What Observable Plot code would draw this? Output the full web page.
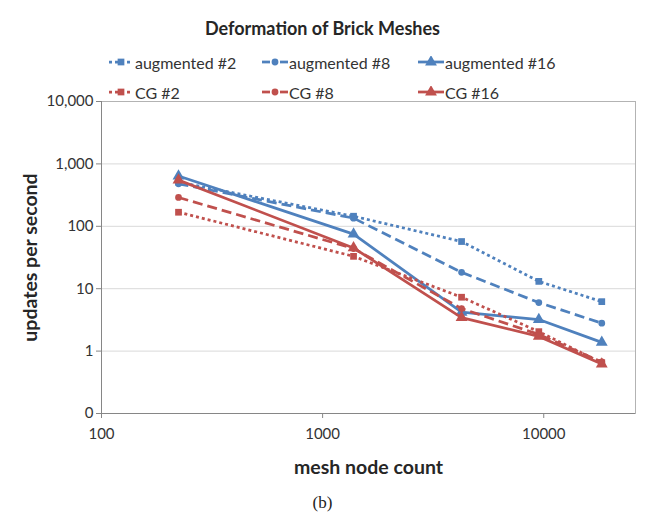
<!DOCTYPE html>
<html>
<head>
<meta charset="utf-8">
<script src="https://cdn.jsdelivr.net/npm/d3@7"></script>
<script src="https://cdn.jsdelivr.net/npm/@observablehq/plot@0.6"></script>
<style>
  html, body { margin: 0; padding: 0; background: #fff; }
  #wrap { position: relative; width: 645px; height: 518px; font-family: Lato, "Open Sans", sans-serif; color: #333; }
  #title { position: absolute; left: 0; top: 17px; width: 645px; text-align: center; font-weight: bold; font-size: 18px; color: #262626; }
  .leg { position: absolute; display: flex; align-items: center; font-size: 16px; color: #333; white-space: nowrap; height: 18px; }
  .leg svg { margin-right: 1px; }
</style>
</head>
<body>
<div id="wrap">
  <div id="title">Deformation of Brick Meshes</div>
  <div id="legend"></div>
  <div id="chart"></div>
</div>
<script>
const nodeCounts = [223, 1380, 4250, 9500, 18300];
const augmented2 = [510, 145, 57, 13.1, 6.2];
const augmented8 = [480, 135, 18.3, 6.0, 2.8];
const augmented16 = [640, 75, 4.2, 3.2, 1.38];
const cg2 = [168, 33, 7.3, 2.05, 0.65];
const cg8 = [290, 44, 4.8, 1.85, 0.67];
const cg16 = [550, 45, 3.45, 1.72, 0.62];

const seriesNames = ["augmented #2", "augmented #8", "augmented #16", "CG #2", "CG #8", "CG #16"];
const seriesValues = [augmented2, augmented8, augmented16, cg2, cg8, cg16];

const xTicks = [100, 1000, 10000];
const xTickLabels = ["100", "1000", "10000"];
const yTicks = [0.1, 1, 10, 100, 1000, 10000];
const yTickLabels = ["0", "1", "10", "100", "1,000", "10,000"];

const blue = "#4F81BD", red = "#C0504D";
const styles = [
  {color: blue, dash: "3,3", symbol: "square", r: 3.8},
  {color: blue, dash: "10,5", symbol: "circle", r: 3.4},
  {color: blue, dash: null, symbol: "triangle", r: 4.4},
  {color: red, dash: "3,3", symbol: "square", r: 3.8},
  {color: red, dash: "10,5", symbol: "circle", r: 3.4},
  {color: red, dash: null, symbol: "triangle", r: 4.4}
];

const data = [];
seriesNames.forEach((name, i) => {
  nodeCounts.forEach((n, j) => data.push({series: name, idx: i, x: n, y: seriesValues[i][j]}));
});

const marks = [
  Plot.gridY(yTicks, {stroke: "#d9d9d9", strokeOpacity: 1, strokeWidth: 1}),
  Plot.frame({stroke: "#b3b3b3", strokeWidth: 1}),
  Plot.ruleX([100], {stroke: "#868686"}),
  Plot.ruleY([0.1], {stroke: "#868686"}),
  Plot.axisY(yTicks, {tickFormat: d => yTickLabels[yTicks.indexOf(d)], tickSize: 5, tickPadding: 3, label: null, stroke: "#868686", fontSize: 15}),
  Plot.axisX(xTicks, {tickFormat: d => xTickLabels[xTicks.indexOf(d)], tickSize: 5, tickPadding: 10, label: null, stroke: "#868686", fontSize: 15})
];
seriesNames.forEach((name, i) => {
  const s = styles[i];
  const d = data.filter(e => e.idx === i);
  marks.push(Plot.line(d, {x: "x", y: "y", stroke: s.color, strokeWidth: 2.75, strokeDasharray: s.dash, strokeLinecap: "butt", strokeLinejoin: "round"}));
  marks.push(Plot.dot(d, {x: "x", y: "y", symbol: () => s.symbol, fill: s.color, stroke: "none", r: s.r}));
});
marks.push(Plot.text(["updates per second"], {frameAnchor: "left", dx: -71, rotate: -90, textAnchor: "middle", lineAnchor: "middle", fontSize: 19.5, fontWeight: "bold", fill: "#262626"}));
marks.push(Plot.text(["mesh node count"], {frameAnchor: "bottom", dy: 54, textAnchor: "middle", lineAnchor: "middle", fontSize: 19.5, fontWeight: "bold", fill: "#262626"}));
marks.push(Plot.text(["(b)"], {frameAnchor: "bottom", dy: 89, dx: -46, textAnchor: "middle", lineAnchor: "middle", fontSize: 17, fontFamily: "Liberation Serif", fill: "#222"}));

const chart = Plot.plot({
  width: 645,
  height: 518,
  marginLeft: 101,
  marginRight: 10,
  marginTop: 101,
  marginBottom: 105,
  style: {fontFamily: "Lato, 'Open Sans', sans-serif", fontSize: "15px", color: "#333", background: "transparent"},
  x: {type: "log", domain: [100, 26000]},
  y: {type: "log", domain: [0.1, 10000]},
  symbol: {type: "identity"},
  marks
});
document.getElementById("chart").appendChild(chart);

// legend
const legendPos = [[108, 62], [262, 62], [418, 62], [108, 92], [262, 92], [418, 92]];
const legend = document.getElementById("legend");
seriesNames.forEach((name, i) => {
  const s = styles[i];
  const div = document.createElement("div");
  div.className = "leg";
  div.style.left = legendPos[i][0] + "px";
  div.style.top = (legendPos[i][1] - 9) + "px";
  const w = 26, h = 12, cy = 6, cx = 13;
  const sym = d3.symbol().type(s.symbol === "square" ? d3.symbolSquare : s.symbol === "circle" ? d3.symbolCircle : d3.symbolTriangle).size(Math.PI * s.r * s.r)();
  let lines;
  if (s.dash === "3,3") {
    lines = `<line x1="1" x2="25" y1="${cy}" y2="${cy}" stroke="${s.color}" stroke-width="2.75" stroke-dasharray="3,3"/>`;
  } else if (s.dash) {
    lines = `<line x1="0" x2="8" y1="${cy}" y2="${cy}" stroke="${s.color}" stroke-width="2.75"/><line x1="18" x2="26" y1="${cy}" y2="${cy}" stroke="${s.color}" stroke-width="2.75"/>`;
  } else {
    lines = `<line x1="0" x2="${w}" y1="${cy}" y2="${cy}" stroke="${s.color}" stroke-width="2.75"/>`;
  }
  div.innerHTML = `<svg width="${w}" height="${h}">${lines}<path d="${sym}" transform="translate(${cx},${cy})" fill="${s.color}"/></svg><span>${name}</span>`;
  legend.appendChild(div);
});
</script>
</body>
</html>
